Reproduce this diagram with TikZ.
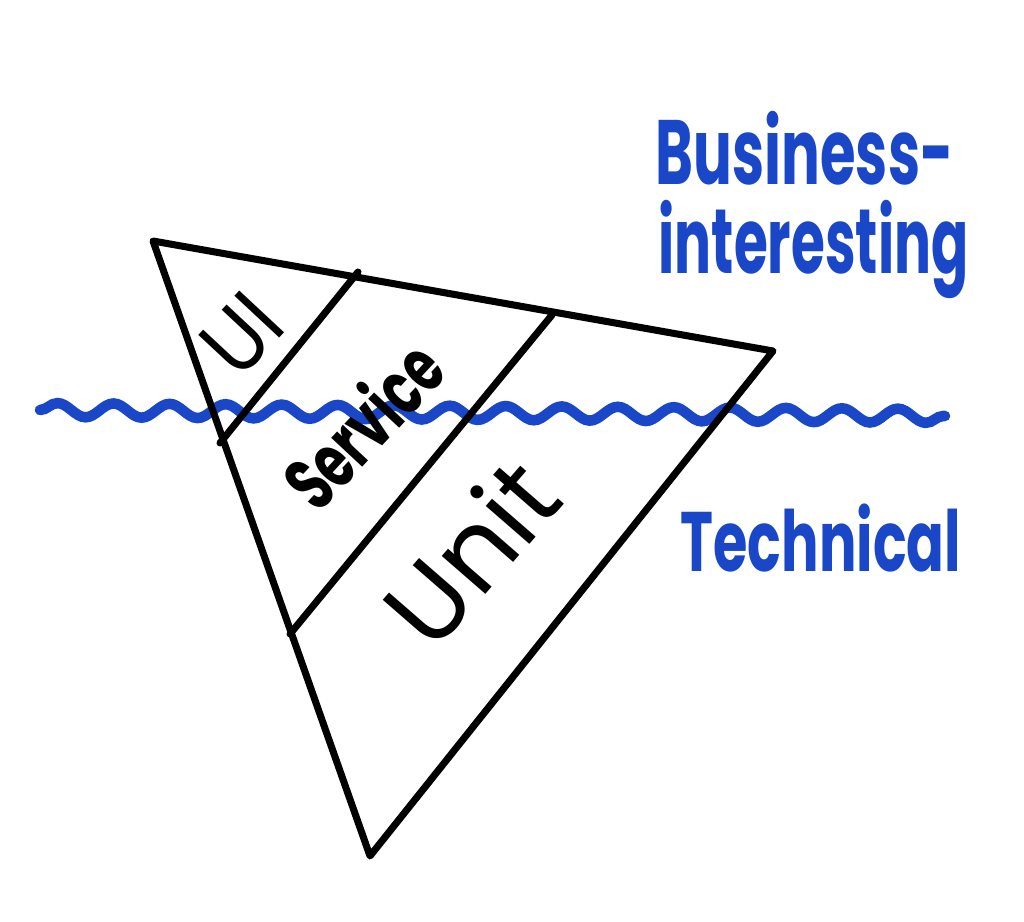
\documentclass[tikz,border=0pt]{standalone}
\usepackage{fontspec}
\newfontfamily\hand{Poppins}
\usetikzlibrary{decorations.pathmorphing}
\definecolor{marker}{HTML}{1A47C8}
\tikzset{
  ink/.style={line width=2pt, line cap=round, line join=round, black},
  wave/.style={line width=3pt, line cap=round, marker, decorate, decoration={snake, segment length=0.56cm, amplitude=0.07cm}},
  bluetext/.style={text=marker, font=\hand\bfseries, inner sep=0pt},
  inktext/.style={text=black, font=\hand, inner sep=0pt}
}
\begin{document}
\begin{tikzpicture}[x=0.01cm,y=-0.01cm]
\useasboundingbox (0,0) rectangle (1024,922);
% vertices
\coordinate (A) at (153,241);
\coordinate (B) at (773,351);
\coordinate (C) at (370,856);
\coordinate (u1) at (358,272);
\coordinate (u2) at (220,443);
\coordinate (s1) at (552,315);
\coordinate (s2) at (290,634);
\coordinate (w1) at (40,410);
\coordinate (w2) at (945,416);
% waterline
\draw[wave] (w1) -- (w2);
% triangle
\draw[ink] (A) -- (B) -- (C) -- cycle;
\draw[ink] (u1) -- (u2);
\draw[ink] (s1) -- (s2);
% labels
\node[inktext, rotate=47] (ui) at (242,334) {\scalebox{0.9}[1.0]{\fontsize{25}{25}\selectfont UI}};
\node[inktext, rotate=47] (service) at (362,424) {\scalebox{0.9}[1.35]{\fontsize{16}{16}\selectfont\bfseries Service}};
\node[inktext, rotate=49] (unit) at (470,552) {\fontsize{30}{30}\selectfont Unit};
\node[bluetext, anchor=base west] (bus) at (655,185) {\scalebox{0.63}[1]{\fontsize{26}{26}\selectfont Business-}};
\node[bluetext, anchor=base west] (int) at (658,274) {\scalebox{0.6}[1]{\fontsize{26}{26}\selectfont interesting}};
\node[bluetext, anchor=base west] (tech) at (680,572) {\scalebox{0.66}[1]{\fontsize{24}{24}\selectfont Technical}};
\end{tikzpicture}
\end{document}
